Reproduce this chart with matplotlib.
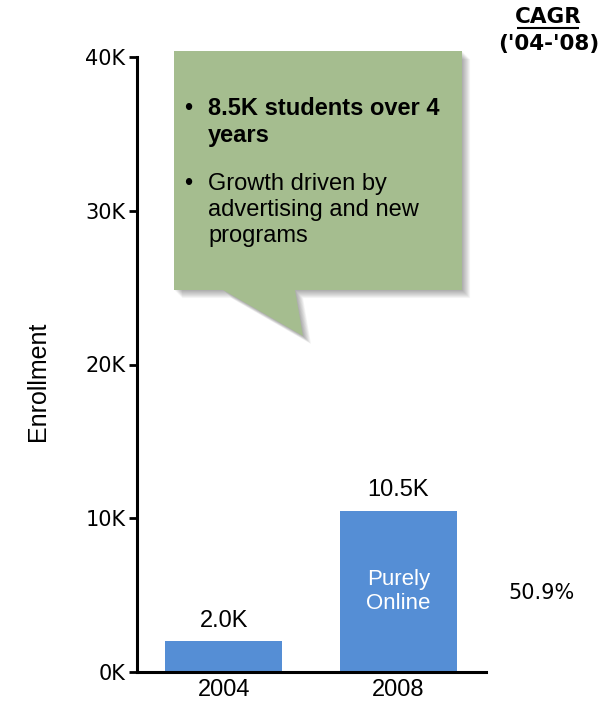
import matplotlib
matplotlib.use("Agg")
import matplotlib.pyplot as plt
from matplotlib.patches import Polygon
from matplotlib.ticker import FuncFormatter

# enrollment in thousands of students
years = ["2004", "2008"]
enrollment = [2.0, 10.5]
y_ticks = [0, 10, 20, 30, 40]
cagr_label = "50.9%"
bar_note = "Purely\nOnline"
callout_lines = [
    ("8.5K students over 4", "bold", True),
    ("years", "bold", False),
    ("Growth driven by", "normal", True),
    ("advertising and new", "normal", False),
    ("programs", "normal", False),
]

BLUE = "#558ED5"
GREEN = "#A5BD8F"
SANS = "Liberation Sans"
VERD = "DejaVu Sans"

W, H = 612, 701
fig = plt.figure(figsize=(W / 100, H / 100), dpi=100)

# main axes placed in pixel terms
left, right, top, bottom = 136.5, 485.5, 57, 672
ax = fig.add_axes([left / W, 1 - bottom / H, (right - left) / W, (bottom - top) / H])

x = list(range(len(years)))
bars = ax.bar(x, enrollment, width=0.67, color=BLUE, zorder=2)
ax.set_xlim(-0.5, 1.5)
ax.set_ylim(0, 40)
ax.set_yticks(y_ticks)
ax.yaxis.set_major_formatter(FuncFormatter(lambda v, p: f"{v:.0f}K"))
ax.set_xticks(x)
ax.set_xticklabels(years, fontfamily=SANS, fontsize=17)
ax.tick_params(axis="x", length=0, pad=5)
ax.tick_params(axis="y", length=6, width=2, pad=2, labelsize=15)
for lbl in ax.get_yticklabels():
    lbl.set_fontfamily(VERD)
for s in ("top", "right"):
    ax.spines[s].set_visible(False)
for s in ("left", "bottom"):
    ax.spines[s].set_linewidth(2.2)

for b, v in zip(bars, enrollment):
    ax.annotate(f"{v:.1f}K", (b.get_x() + b.get_width() / 2, v),
                xytext=(0, 7), textcoords="offset points",
                ha="center", va="bottom", fontfamily=SANS, fontsize=17)

# label inside the 2008 bar
ax.text(x[1], enrollment[1] / 2, bar_note, ha="center", va="center",
        color="white", fontfamily=SANS, fontsize=16, linespacing=1.2)

fig.text(38 / W, 1 - 381 / H, "Enrollment", rotation=90, ha="center",
         va="center", fontfamily=SANS, fontsize=18)

# overlay axes in pixel coords for the callout box and header
ov = fig.add_axes([0, 0, 1, 1], zorder=5)
ov.set_xlim(0, W)
ov.set_ylim(H, 0)
ov.axis("off")

# CAGR column on the right
ov.text(548, 17, "CAGR", ha="center", va="center",
        fontfamily=VERD, fontweight="bold", fontsize=15.5)
ov.plot([517, 579], [28, 28], color="black", lw=1.5, solid_capstyle="butt")
ov.text(549, 44, "('04-'08)", ha="center", va="center",
        fontfamily=VERD, fontweight="bold", fontsize=15.5)
ov.text(542, 593, cagr_label, ha="center", va="center",
        fontfamily=VERD, fontsize=15)

shape = [(174, 51), (462, 51), (462, 290), (295, 290), (303, 336),
         (223, 290), (174, 290)]
# soft drop shadow
for i in range(1, 10):
    ov.add_patch(Polygon([(px + i * 0.9, py + i * 0.9) for px, py in shape],
                         closed=True, facecolor="black", edgecolor="none",
                         alpha=0.04))
ov.add_patch(Polygon(shape, closed=True, facecolor=GREEN, edgecolor="none"))

baselines = [115, 142, 190, 216, 242]
for (txt, wt, bullet), yb in zip(callout_lines, baselines):
    if bullet:
        ov.text(188, yb, "•", ha="center", va="baseline", fontfamily=SANS,
                fontsize=17)
    ov.text(208, yb, txt, ha="left", va="baseline", fontfamily=SANS,
            fontweight=wt, fontsize=17)

fig.savefig("out.png", dpi=100)
